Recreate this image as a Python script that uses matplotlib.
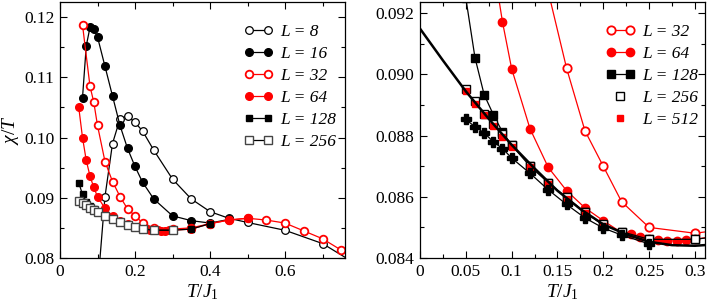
import matplotlib
matplotlib.use("Agg")
import matplotlib.pyplot as plt
from matplotlib.ticker import MultipleLocator, FixedLocator, FixedFormatter
from matplotlib.legend_handler import HandlerLine2D

plt.rcParams['font.family'] = ['Liberation Serif', 'DejaVu Serif']
plt.rcParams['mathtext.fontset'] = 'custom'
plt.rcParams['mathtext.rm'] = 'Liberation Serif'
plt.rcParams['mathtext.it'] = 'Liberation Serif:italic'

# ---- left panel data ----
T_L8 = [0.10, 0.12, 0.14, 0.16, 0.18, 0.20, 0.22, 0.25, 0.30, 0.35, 0.40, 0.45, 0.50, 0.60, 0.70, 0.80]
chi_L8 = [0.0749, 0.0902, 0.0990, 0.1031, 0.1036, 0.1025, 0.1011, 0.0979, 0.0931, 0.0898, 0.0877,
          0.0866, 0.0859, 0.0846, 0.0824, 0.0786]

T_L16 = [0.06, 0.07, 0.08, 0.09, 0.10, 0.12, 0.14, 0.16, 0.18, 0.20, 0.22, 0.25, 0.30, 0.35, 0.40, 0.45]
chi_L16 = [0.1066, 0.1152, 0.1183, 0.1181, 0.1167, 0.1118, 0.1069, 0.1020, 0.0982, 0.0952, 0.0926,
           0.0898, 0.0870, 0.0862, 0.0858, 0.0864]

T_L32 = [0.06, 0.08, 0.09, 0.10, 0.12, 0.14, 0.16, 0.18, 0.20, 0.22, 0.25, 0.30, 0.35, 0.40, 0.45,
         0.50, 0.55, 0.60, 0.65, 0.70, 0.75]
chi_L32 = [0.1187, 0.1085, 0.1059, 0.1020, 0.0960, 0.0927, 0.0902, 0.08816, 0.0870, 0.08584, 0.0850,
           0.08481, 0.0850, 0.0857, 0.0863, 0.0866, 0.0863, 0.0858, 0.0845, 0.0832, 0.0813]

T_L64 = [0.05, 0.06, 0.07, 0.08, 0.09, 0.10, 0.12, 0.14, 0.16, 0.18, 0.20, 0.22, 0.23, 0.24, 0.25,
         0.26, 0.27, 0.28, 0.29, 0.30, 0.35, 0.40, 0.45, 0.50]
chi_L64 = [0.1050, 0.1000, 0.0962, 0.0936, 0.09172, 0.09019, 0.08823, 0.08696, 0.0862, 0.08564, 0.08522,
           0.08483, 0.08477, 0.08468, 0.08462, 0.08459, 0.08456, 0.08456, 0.08460, 0.08462, 0.0848,
           0.0857, 0.0863, 0.0866]

T_L128 = [0.05, 0.06, 0.07, 0.08, 0.09, 0.10, 0.12, 0.14, 0.16, 0.18, 0.20, 0.22, 0.25, 0.30, 0.35, 0.40]
chi_L128 = [0.0925, 0.09055, 0.08934, 0.08869, 0.08812, 0.08769, 0.08700, 0.08646, 0.08598, 0.08549,
            0.08508, 0.08486, 0.08461, 0.08461, 0.0848, 0.0857]

T_L256 = [0.05, 0.06, 0.07, 0.08, 0.09, 0.10, 0.12, 0.14, 0.16, 0.18, 0.20, 0.22, 0.25, 0.30]
chi_L256 = [0.08951, 0.08913, 0.08872, 0.08837, 0.08804, 0.08769, 0.08700, 0.08646, 0.08598, 0.08551,
            0.08510, 0.08486, 0.08461, 0.08461]

# ---- right panel extra data ----
T_L512 = [0.05, 0.06, 0.07, 0.08, 0.09, 0.10, 0.12, 0.14, 0.16, 0.18, 0.20]
chi_L512 = [0.08945, 0.08905, 0.08866, 0.08830, 0.08797, 0.08764, 0.08697, 0.08642, 0.08594, 0.08546, 0.08506]

T_cross = [0.05, 0.06, 0.07, 0.08, 0.09, 0.10, 0.12, 0.14, 0.16, 0.18, 0.20, 0.22, 0.25]
chi_cross = [0.08853, 0.08829, 0.08809, 0.08780, 0.08758, 0.08727, 0.08677, 0.08623, 0.08575, 0.08531,
             0.08498, 0.08475, 0.08446]

# thick extrapolation curve
T_fit = [0.0, 0.025, 0.05, 0.075, 0.10, 0.125, 0.15, 0.175, 0.20, 0.225, 0.25, 0.275, 0.30, 0.32]
chi_fit = [0.09150, 0.09046, 0.08945, 0.08855, 0.08770, 0.08693, 0.08620, 0.08560, 0.08510, 0.08477,
           0.08453, 0.08442, 0.08440, 0.08444]

left_xticks = [0, 0.2, 0.4, 0.6]
left_xlabels = ["0", "0.2", "0.4", "0.6"]
left_yticks = [0.08, 0.09, 0.10, 0.11, 0.12]
left_ylabels = ["0.08", "0.09", "0.10", "0.11", "0.12"]
right_xticks = [0, 0.05, 0.1, 0.15, 0.2, 0.25, 0.3]
right_xlabels = ["0", "0.05", "0.1", "0.15", "0.2", "0.25", "0.3"]
right_yticks = [0.084, 0.086, 0.088, 0.090, 0.092]
right_ylabels = ["0.084", "0.086", "0.088", "0.090", "0.092"]

RED = '#ff0000'
GRAY = '#444444'
lw = 0.9
legend_font = {'family': 'Liberation Serif', 'style': 'italic', 'size': 12.5}


def style_axes(ax, xt, xl, yt, yl, xminor, yminor):
    ax.xaxis.set_major_locator(FixedLocator(xt))
    ax.xaxis.set_major_formatter(FixedFormatter(xl))
    ax.yaxis.set_major_locator(FixedLocator(yt))
    ax.yaxis.set_major_formatter(FixedFormatter(yl))
    ax.xaxis.set_minor_locator(MultipleLocator(xminor))
    ax.yaxis.set_minor_locator(MultipleLocator(yminor))
    ax.tick_params(which='both', direction='in', top=True, right=True, labelsize=12.5, width=0.8)
    ax.tick_params(which='major', length=5, pad=4)
    ax.tick_params(which='minor', length=3)
    for s in ax.spines.values():
        s.set_linewidth(0.9)
    ax.set_xlabel(r'$T/J_\mathit{1}$', fontsize=14, labelpad=2)


fig = plt.figure(figsize=(7.08, 3.05), dpi=100)
ax1 = fig.add_axes([60 / 708, 47 / 305, 285 / 708, 256 / 305])
ax2 = fig.add_axes([420 / 708, 47 / 305, 285 / 708, 256 / 305])

# left panel
ax1.plot(T_L8, chi_L8, '-o', color='black', mfc='white', mec='black', ms=5.5, mew=0.9, lw=lw, label='L = 8')
ax1.plot(T_L16, chi_L16, '-o', color='black', ms=5.5, lw=lw, label='L = 16')
ax1.plot(T_L32, chi_L32, '-o', color=RED, mfc='white', mec=RED, ms=5.5, mew=1.3, lw=lw, label='L = 32')
ax1.plot(T_L64, chi_L64, '-o', color=RED, ms=5.5, lw=lw, label='L = 64')
ax1.plot(T_L128, chi_L128, '-s', color='black', ms=5, lw=lw, label='L = 128')
ax1.plot(T_L256, chi_L256, '-s', color='black', mfc='white', mec=GRAY, ms=5.5, mew=1.0, lw=lw, label='L = 256')
ax1.set_xlim(0, 0.76)
ax1.set_ylim(0.08, 0.1225)
style_axes(ax1, left_xticks, left_xlabels, left_yticks, left_ylabels, 0.1, 0.005)
ax1.set_ylabel(r'$\chi/T$', fontsize=14, labelpad=2)
ax1.legend(loc='upper left', bbox_to_anchor=(0.589, 0.975), frameon=False, numpoints=2,
           handlelength=1.7, handletextpad=0.4, labelspacing=0.34, prop=legend_font)

# right panel
ax2.plot(T_L32, chi_L32, '-o', color=RED, mfc='white', mec=RED, ms=6, mew=1.3, lw=lw, label='L = 32')
ax2.plot(T_L64, chi_L64, '-o', color=RED, ms=6, lw=lw, label='L = 64')
ax2.plot(T_L128, chi_L128, '-s', color='black', ms=5.5, lw=lw, label='L = 128')
ax2.plot(T_L256, chi_L256, 's', mfc='white', mec='black', ms=6, mew=1.0, label='L = 256')
ax2.plot(T_L512, chi_L512, 's', color=RED, mec=RED, ms=4.5, label='L = 512')
ax2.plot(T_cross, chi_cross, '-P', color='black', ms=6.5, lw=lw)
ax2.plot(T_fit, chi_fit, '-', color='black', lw=1.8)
ax2.set_xlim(0, 0.311)
ax2.set_ylim(0.084, 0.09237)
style_axes(ax2, right_xticks, right_xlabels, right_yticks, right_ylabels, 0.025, 0.001)
h, l = ax2.get_legend_handles_labels()
ax2.legend(h, l, loc='upper left', bbox_to_anchor=(0.596, 0.975), frameon=False, numpoints=2,
           handlelength=1.7, handletextpad=0.4, labelspacing=0.34,
           handler_map={h[3]: HandlerLine2D(numpoints=1), h[4]: HandlerLine2D(numpoints=1)},
           prop=legend_font)

fig.savefig('out.png', dpi=100)
